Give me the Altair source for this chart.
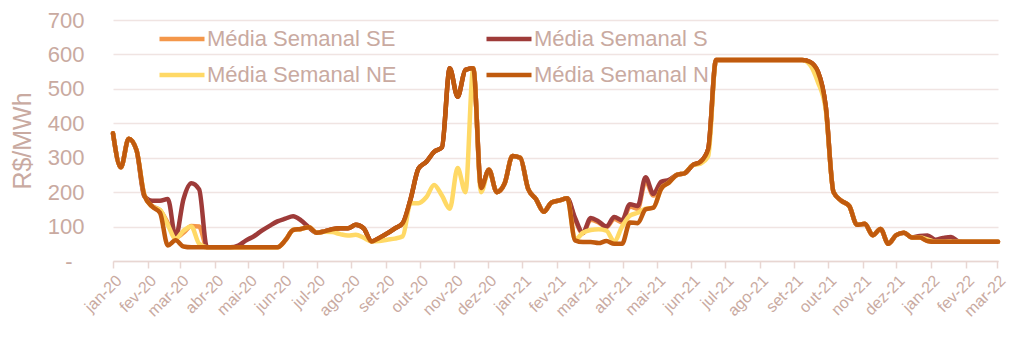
import altair as alt
import pandas as pd

WEEK_START = "2020-01-01"
SERIES = ["Média Semanal SE", "Média Semanal S", "Média Semanal NE", "Média Semanal N"]
COLORS = ["#F4974A", "#9E3B39", "#FFD966", "#C05A0E"]

# weekly averages (R$/MWh)
N = [371, 272, 355, 322, 190, 158, 140, 45, 60, 42,
     39.68, 39.68, 39.68, 39.68, 39.68, 39.68, 39.68, 39.68, 39.68, 39.68, 39.68, 39.68,
     60, 90, 93, 98, 82, 86, 92, 95, 95, 105, 95, 57, 67, 80, 95, 110,
     180, 268, 288, 317, 330, 559.75, 477, 555, 559.75, 212, 265, 200, 225, 305, 300,
     210, 180, 143, 170, 176, 182, 60, 55, 55, 52, 58, 50, 50, 112, 110, 150, 155,
     210, 228, 250, 255, 278, 288, 325,
     583.88, 583.88, 583.88, 583.88, 583.88, 583.88, 583.88, 583.88, 583.88, 583.88, 583.88, 583.88,
     578, 550, 450, 200, 175, 160, 105, 108, 75, 93, 50, 75, 82, 68, 68, 58,
     55.70, 55.70, 55.70, 55.70, 55.70, 55.70, 55.70, 55.70, 55.70]

S = [371, 272, 355, 322, 188, 175, 175, 180, 70, 180, 226, 208,
     39.68, 39.68, 39.68, 39.68, 45, 60, 72, 88, 102, 115, 123, 130, 118,
     98, 82, 86, 92, 95, 95, 105, 95, 57, 67, 80, 95, 110,
     180, 268, 288, 317, 330, 559.75, 477, 555, 559.75, 212, 265, 200, 225, 305, 300,
     210, 180, 143, 170, 176, 182, 125, 82, 125, 115, 100, 128, 118, 165, 160, 243, 195,
     230, 236, 250, 255, 278, 288, 325,
     583.88, 583.88, 583.88, 583.88, 583.88, 583.88, 583.88, 583.88, 583.88, 583.88, 583.88, 583.88,
     578, 550, 450, 200, 175, 160, 105, 108, 75, 93, 50, 75, 82, 68, 73, 74,
     62, 67, 70, 57, 55.70, 55.70, 55.70, 55.70, 55.70]

SE = [371, 272, 355, 322, 192, 160, 148, 110, 68, 82, 102, 100,
      39.68, 39.68, 39.68, 39.68, 39.68, 39.68, 39.68, 39.68, 39.68, 39.68,
      60, 90, 93, 98, 82, 86, 92, 95, 95, 105, 95, 57, 67, 80, 95, 110,
      180, 268, 288, 317, 330, 559.75, 477, 555, 559.75, 212, 265, 200, 225, 305, 300,
      210, 180, 143, 170, 176, 182, 120, 80, 120, 112, 98, 122, 112, 158, 152, 232, 190,
      226, 234, 250, 255, 278, 288, 325,
      583.88, 583.88, 583.88, 583.88, 583.88, 583.88, 583.88, 583.88, 583.88, 583.88, 583.88, 583.88,
      578, 550, 450, 200, 175, 160, 105, 108, 75, 93, 50, 75, 82, 68, 68, 58,
      55.70, 55.70, 55.70, 55.70, 55.70, 55.70, 55.70, 55.70, 55.70]

NE = [371, 272, 355, 322, 192, 158, 148, 105, 65, 88, 100, 50,
      39.68, 39.68, 39.68, 39.68, 39.68, 39.68, 39.68, 39.68, 39.68, 39.68,
      60, 90, 93, 98, 82, 85, 84, 78, 74, 76, 68, 57, 58, 62, 65, 72,
      168, 168, 185, 221, 190, 152, 270, 200, 559.75, 200, 265, 200, 225, 305, 300,
      210, 180, 143, 170, 176, 182, 62, 82, 90, 92, 88, 57, 100, 132, 140, 152, 155,
      210, 228, 250, 255, 278, 283, 305,
      583.88, 583.88, 583.88, 583.88, 583.88, 583.88, 583.88, 583.88, 583.88, 583.88, 583.88, 583.88,
      570, 520, 440, 200, 175, 160, 105, 108, 75, 93, 50, 75, 82, 68, 68, 63,
      55.70, 55.70, 55.70, 55.70, 55.70, 55.70, 55.70, 55.70, 55.70]

MONTH_ABBR = ["jan", "fev", "mar", "abr", "mai", "jun", "jul", "ago", "set", "out", "nov", "dez"]
TICK_MONTHS = [(2020, m) for m in range(1, 13)] + [(2021, m) for m in range(1, 13)] + [(2022, 1), (2022, 2), (2022, 3)]
Y_TICKS = [0, 100, 200, 300, 400, 500, 600, 700]

TXT = "#C9AAA1"
GRID = "#F0E4E2"
AXIS = "#E8D6D2"

dates = pd.date_range(WEEK_START, periods=len(N), freq="7D")
rows = []
for name, vals in zip(SERIES, [SE, S, NE, N]):
    for d, v in zip(dates, vals):
        rows.append({"date": d.strftime("%Y-%m-%d"), "series": name, "value": v})
df = pd.DataFrame(rows)

month_js = "[" + ",".join("'%s'" % m for m in MONTH_ABBR) + "]"
x_label_expr = month_js + "[utcmonth(datum.value)] + '-' + utcFormat(datum.value, '%y')"

x_enc = alt.X(
    "date:T",
    scale=alt.Scale(type="utc", domain=[alt.DateTime(year=2020, month=1, date=1, utc=True),
                                        alt.DateTime(year=2022, month=3, date=2, utc=True)]),
    axis=alt.Axis(
        values=[alt.DateTime(year=y, month=m, date=1, utc=True) for y, m in TICK_MONTHS],
        labelExpr=x_label_expr,
        labelAngle=-45,
        labelFontSize=16,
        labelColor=TXT,
        labelPadding=4,
        labelOverlap=False,
        domainColor=AXIS,
        domainWidth=1.5,
        tickColor=AXIS,
        tickSize=7,
        tickWidth=1.5,
        grid=False,
        title=None,
    ),
)

y_enc = alt.Y(
    "value:Q",
    scale=alt.Scale(domain=[0, 700]),
    axis=alt.Axis(
        values=Y_TICKS,
        labelExpr="datum.value == 0 ? '-' : datum.label",
        labelFontSize=22,
        labelColor=TXT,
        labelPadding={"condition": {"test": "datum.value == 0", "value": 41}, "value": 29},
        domain=False,
        ticks=False,
        gridColor=GRID,
        gridWidth=1.5,
        title="R$/MWh",
        titleFontSize=25,
        titleFontWeight="normal",
        titleColor=TXT,
        titlePadding=12,
    ),
)

color_enc = alt.Color(
    "series:N",
    scale=alt.Scale(domain=SERIES, range=COLORS),
    legend=alt.Legend(
        orient="none",
        legendX=44,
        legendY=-6,
        columns=2,
        direction="horizontal",
        title=None,
        symbolType="stroke",
        symbolSize=2025,
        symbolStrokeWidth=4.5,
        labelFontSize=22,
        labelColor=TXT,
        labelOffset=0,
        labelLimit=400,
        columnPadding=80,
        rowPadding=-16,
        padding=0,
    ),
)

layers = [
    alt.Chart(df)
    .transform_filter(alt.datum.series == s)
    .mark_line(interpolate="monotone", strokeWidth=4.5, strokeCap="round", strokeJoin="round")
    .encode(x=x_enc, y=y_enc, color=color_enc)
    for s in SERIES
]

chart = (
    alt.layer(*layers)
    .properties(
        width=885,
        height=241,
        padding={"left": 105, "top": 12, "right": 10, "bottom": 90},
        autosize=alt.AutoSizeParams(type="none"),
    )
    .configure(font="Liberation Sans")
    .configure_view(stroke=None)
)

chart.save("out.html", embed_options={"renderer": "svg", "actions": False})
